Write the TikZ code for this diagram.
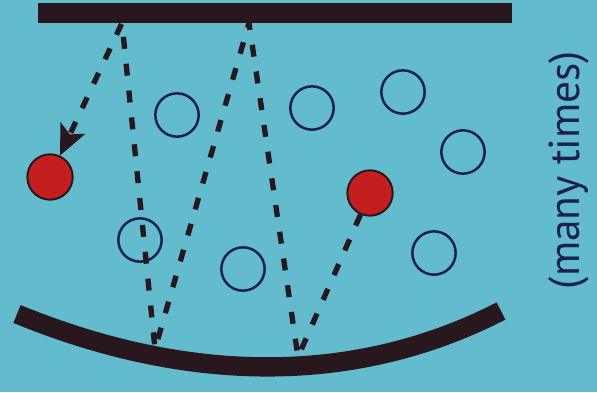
\documentclass[tikz,border=0pt]{standalone}
\usepackage{fontspec}
\setmainfont{PT Sans}
\usetikzlibrary{arrows.meta}

\definecolor{screen}{RGB}{98,188,205}
\definecolor{barblack}{RGB}{40,24,30}
\definecolor{ringblue}{RGB}{28,32,78}
\definecolor{atomred}{RGB}{196,30,30}

\begin{document}
\begin{tikzpicture}[
    x=0.03cm, y=-0.03cm,
    mirror/.style={draw=barblack, line width=0.58cm},
    atom/.style={circle, draw=ringblue, line width=0.075cm,
                 minimum size=1.3cm, inner sep=0pt},
    excited/.style={circle, draw=barblack, fill=atomred, line width=0.06cm,
                    minimum size=1.36cm, inner sep=0pt},
    photon/.style={draw=barblack, line width=0.16cm,
                   dash pattern=on 0.36cm off 0.45cm,
                   -{Stealth[length=0.9cm, width=0.8cm, inset=0.2cm]}},
]

%% --- Background ---
\fill[screen] (0,0) rectangle (597,392);
\useasboundingbox (0,0) rectangle (597,392);

%% --- Mirror end points ---
\coordinate (tl) at (38,13);
\coordinate (tr) at (512,13);
\coordinate (ml) at (17,314);
\coordinate (mr) at (501,311);

%% --- Bounce points ---
\coordinate (t1) at (122,23);
\coordinate (t2) at (249,23);
\coordinate (b1) at (155,349);
\coordinate (b2) at (298,357);

%% --- Atoms ---
\node[excited] (red1) at (50,177) {};
\node[excited] (red2) at (370,193) {};

\node[atom] (a1) at (177,115) {};
\node[atom] (a2) at (312,108) {};
\node[atom] (a3) at (403,92)  {};
\node[atom] (a4) at (463,152) {};
\node[atom] (a5) at (140,240) {};
\node[atom] (a6) at (243,269) {};
\node[atom] (a7) at (434,253) {};

%% --- Photon path ---
\draw[photon] (red2) -- (b2) -- (t2) -- (b1) -- (t1) -- (red1);

%% --- Mirrors ---
\draw[mirror] (tl) -- (tr);
\draw[mirror] (ml) .. controls (190,385) and (357,385) .. (mr);

%% --- Note ---
\node[rotate=90, text=ringblue, font=\fontsize{37}{40}\selectfont]
    (note) at (569,170) {(many times)};

\end{tikzpicture}
\end{document}
